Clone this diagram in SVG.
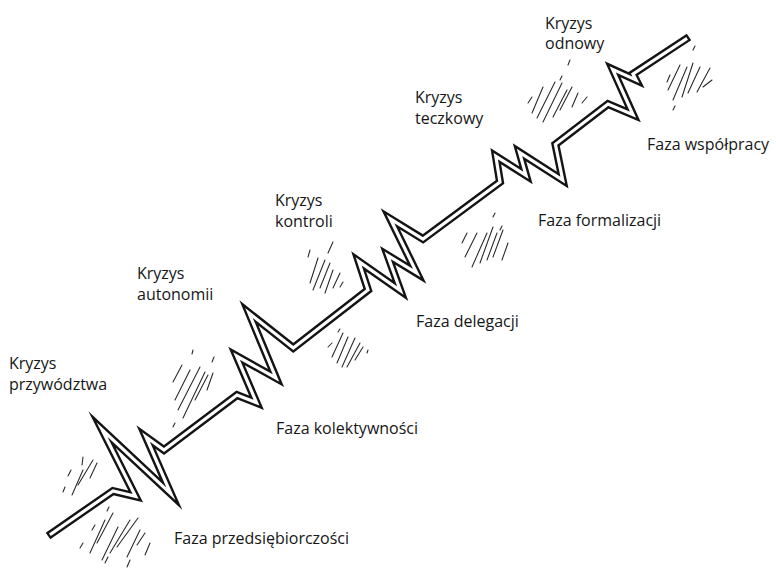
<svg xmlns="http://www.w3.org/2000/svg" width="776" height="572" viewBox="0 0 776 572">
  <style>
    .outline { fill: none; stroke: #141414; stroke-width: 8; stroke-linejoin: miter; stroke-miterlimit: 14; stroke-linecap: butt; }
    .core { fill: none; stroke: #ffffff; stroke-width: 3.2; stroke-linejoin: miter; stroke-miterlimit: 14; stroke-linecap: butt; }
    .hatch { fill: none; stroke: #262626; stroke-width: 1.05; stroke-linecap: round; }
    .label { font-family: "Open Sans", "Noto Sans", sans-serif; font-size: 16px; fill: #161616; }
  </style>

  <!-- sketchy shading strokes -->
  <g id="shading">
    <path class="hatch" d="M63,492 L65,487 M72,495 L83,470 M78,485 L93,460 M82,465 L83,457 M90,478 L97,463 M68,476 L71,470"/>
    <path class="hatch" d="M80,548 L83,543 M90,553 L105,520 M97,543 L113,513 M102,560 L118,527 M110,553 L130,520 M117,547 L138,518 M127,557 L140,530 M137,545 L145,533 M145,555 L150,543 M105,563 L108,557 M127,567 L130,560 M107,511 L109,507 M92,530 L95,525"/>
    <path class="hatch" d="M173,382 L182,365 M175,400 L190,370 M178,410 L200,367 M183,418 L205,372 M195,400 L208,375 M207,390 L213,373 M192,354 L193,350 M212,362 L214,357 M173,427 L175,423"/>
    <path class="hatch" d="M308,257 L310,250 M310,283 L318,258 M313,290 L325,260 M320,288 L330,263 M325,293 L333,270 M328,253 L333,242 M333,288 L340,273 M340,287 L343,282"/>
    <path class="hatch" d="M328,347 L332,343 M332,357 L343,333 M337,363 L348,337 M342,367 L355,338 M347,367 L360,343 M355,360 L363,347 M367,353 L368,350 M338,332 L340,329"/>
    <path class="hatch" d="M462,243 L467,233 M465,257 L477,233 M472,267 L487,233 M480,263 L493,227 M487,260 L497,233 M493,257 L503,230 M502,260 L508,243 M493,217 L495,213 M500,230 L502,226"/>
    <path class="hatch" d="M570,60 L568,65 M528,103 L532,97 M532,113 L543,87 M537,118 L555,82 M543,122 L562,83 M553,117 L567,90 M560,110 L572,87 M572,107 L578,93 M582,103 L587,97 M560,80 L562,76"/>
    <path class="hatch" d="M667,82 L670,75 M668,90 L680,65 M673,100 L687,67 M682,97 L693,63 M688,93 L700,67 M697,92 L710,68 M703,87 L712,80 M693,50 L695,46 M673,110 L675,106"/>
  </g>

  <!-- development line: growth phases joined by crisis zigzags -->
  <g id="connectors">
    <path class="outline" d="M48,536 L113,491 L135.6,496.3 L102,429.5 L170.9,493.8 L146,437 L164,450 L237,395 L256.5,402.7 L236.5,356 L276,378 L249,313 L293.3,348 L368,290 L358.7,261.4 L400.3,290.5 L387.6,255.3 L416.8,273.1 L390.3,218.8 L423,239 L500,182 L495.8,156.2 L526,175.3 L519.5,152.4 L562.7,180 L555.4,144.3 L608,104 L633,114.6 L612.7,69.4 L636,80 L633,74 L689,37"/>
    <path class="core" d="M49.9,534.7 L113,491 L135.6,496.3 L102,429.5 L170.9,493.8 L146,437 L164,450 L237,395 L256.5,402.7 L236.5,356 L276,378 L249,313 L293.3,348 L368,290 L358.7,261.4 L400.3,290.5 L387.6,255.3 L416.8,273.1 L390.3,218.8 L423,239 L500,182 L495.8,156.2 L526,175.3 L519.5,152.4 L562.7,180 L555.4,144.3 L608,104 L633,114.6 L612.7,69.4 L636,80 L633,74 L687.1,38.3"/>
  </g>

  <g id="crisis-leadership">
    <text class="label" x="9" y="369">Kryzys</text>
    <text class="label" x="9" y="390">przywództwa</text>
  </g>
  <g id="crisis-autonomy">
    <text class="label" x="137" y="279">Kryzys</text>
    <text class="label" x="137" y="300">autonomii</text>
  </g>
  <g id="crisis-control">
    <text class="label" x="275" y="206">Kryzys</text>
    <text class="label" x="275" y="227">kontroli</text>
  </g>
  <g id="crisis-red-tape">
    <text class="label" x="415" y="103">Kryzys</text>
    <text class="label" x="415" y="124">teczkowy</text>
  </g>
  <g id="crisis-renewal">
    <text class="label" x="545" y="29">Kryzys</text>
    <text class="label" x="545" y="49">odnowy</text>
  </g>

  <g id="phase-entrepreneurship">
    <text class="label" x="174" y="544">Faza przedsiębiorczości</text>
  </g>
  <g id="phase-collectivity">
    <text class="label" x="276" y="434">Faza kolektywności</text>
  </g>
  <g id="phase-delegation">
    <text class="label" x="416" y="327">Faza delegacji</text>
  </g>
  <g id="phase-formalization">
    <text class="label" x="538" y="226">Faza formalizacji</text>
  </g>
  <g id="phase-cooperation">
    <text class="label" x="647" y="150">Faza współpracy</text>
  </g>
</svg>
